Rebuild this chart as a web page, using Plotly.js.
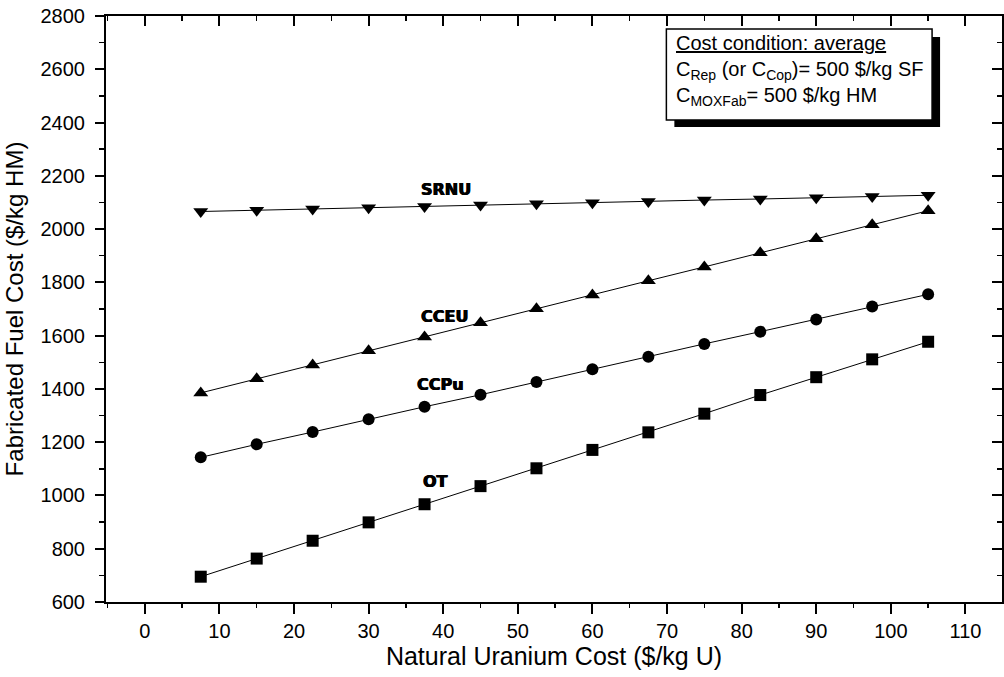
<!DOCTYPE html>
<html>
<head>
<meta charset="utf-8">
<script src="https://cdn.plot.ly/plotly-3.0.1.min.js"></script>
<style>html,body{margin:0;padding:0;background:#fff}#chart{width:1004px;height:677px}</style>
</head>
<body>
<div id="chart"></div>
<script>
// Natural uranium cost ($/kg U)
const uraniumCost = [7.5, 15, 22.5, 30, 37.5, 45, 52.5, 60, 67.5, 75, 82.5, 90, 97.5, 105];
// Fabricated fuel cost ($/kg HM)
const srnu = [2066, 2071, 2075, 2080, 2085, 2090, 2095, 2099, 2104, 2109, 2113, 2118, 2122, 2127];
const cceu = [1385, 1438, 1490, 1543, 1595, 1648, 1701, 1753, 1806, 1858, 1911, 1964, 2016, 2069];
const ccpu = [1143, 1192, 1238, 1286, 1333, 1378, 1426, 1474, 1521, 1569, 1615, 1661, 1709, 1755];
const ot   = [695, 763, 830, 899, 967, 1035, 1102, 1171, 1237, 1307, 1377, 1444, 1511, 1577];
const seriesNames = ['SRNU', 'CCEU', 'CCPu', 'OT'];
const xTitle = 'Natural Uranium Cost ($/kg U)';
const yTitle = 'Fabricated Fuel Cost ($/kg HM)';
const noteLines = [
  '<u>Cost condition: average</u>',
  'C<sub>Rep</sub> (or C<sub>Cop</sub>)= 500 $/kg SF',
  'C<sub>MOXFab</sub>= 500 $/kg HM'
];

const xRange = [-5.2, 114.9];
const yRange = [600, 2800];
const FONT = 'Liberation Sans, Arial, sans-serif';

function series(y, symbol, size, name) {
  return {
    x: uraniumCost, y: y, name: name, type: 'scatter', mode: 'lines+markers',
    line: {color: '#000', width: 1},
    marker: {symbol: symbol, size: size, color: '#000'},
    showlegend: false, hoverinfo: 'x+y'
  };
}

const traces = [
  series(srnu, 'triangle-down', 13, seriesNames[0]),
  series(cceu, 'triangle-up', 13, seriesNames[1]),
  series(ccpu, 'circle', 12, seriesNames[2]),
  series(ot, 'square', 12, seriesNames[3]),
  {x: [], y: [], xaxis: 'x2', yaxis: 'y2', type: 'scatter', mode: 'markers', showlegend: false, hoverinfo: 'skip'}
];

const labelPos = [[40.4, 2148], [40.2, 1673], [39.6, 1417], [38.9, 1052]];
const annotations = seriesNames.map((n, i) => ({
  x: labelPos[i][0], y: labelPos[i][1], xref: 'x', yref: 'y', text: n, showarrow: false,
  font: {family: 'DejaVu Sans, sans-serif', size: 16, color: '#000', weight: 'bold',
         shadow: '0.5px 0 0 #000, -0.5px 0 0 #000'},
  xanchor: 'center', yanchor: 'middle'
}));
// note box text (paper coords: px -> (px-106)/897, py -> (602-py)/586)
const noteY = [43, 71, 96];
noteLines.forEach((t, i) => {
  annotations.push({
    x: (675 - 106) / 897, y: (602 - noteY[i]) / 586, xref: 'paper', yref: 'paper',
    text: t, showarrow: false, xanchor: 'left', yanchor: 'middle', align: 'left',
    font: {family: FONT, size: 20, color: '#000'}
  });
});

const shapes = [
  {type: 'rect', xref: 'paper', yref: 'paper', x0: (675 - 106) / 897, x1: (941 - 106) / 897,
   y0: (602 - 127) / 586, y1: (602 - 37) / 586, fillcolor: '#000', line: {width: 0}},
  {type: 'rect', xref: 'paper', yref: 'paper', x0: (667 - 106) / 897, x1: (933 - 106) / 897,
   y0: (602 - 120) / 586, y1: (602 - 29) / 586, fillcolor: '#fff', line: {color: '#000', width: 1.5}}
];

const common = {showgrid: false, zeroline: false, showline: true, linecolor: '#000', linewidth: 2,
  tickcolor: '#000', tickwidth: 2};

const layout = {
  width: 1004, height: 677,
  margin: {l: 106, r: 2, t: 16, b: 75},
  paper_bgcolor: '#fff', plot_bgcolor: '#fff',
  font: {family: FONT, color: '#000', size: 20},
  showlegend: false,
  xaxis: Object.assign({}, common, {
    range: xRange, tick0: 0, dtick: 10, ticks: 'outside', ticklen: 10,
    minor: {dtick: 5, tick0: 0, ticks: 'outside', ticklen: 4, tickwidth: 1.5, tickcolor: '#000'},
    tickfont: {size: 20, family: FONT},
    title: {text: xTitle, font: {size: 25, family: FONT}, standoff: 4},
    automargin: false
  }),
  yaxis: Object.assign({}, common, {
    range: yRange, tick0: 600, dtick: 200, ticks: 'outside', ticklen: 9,
    minor: {dtick: 100, tick0: 600, ticks: 'outside', ticklen: 5, tickwidth: 1.5, tickcolor: '#000'},
    tickfont: {size: 20, family: FONT}, ticklabelstandoff: 6,
    title: {text: yTitle, font: {size: 24, family: FONT}, standoff: 10},
    automargin: false
  }),
  xaxis2: Object.assign({}, common, {
    overlaying: 'x', side: 'top', anchor: 'y2', range: xRange, tick0: 0, dtick: 10,
    ticks: 'inside', ticklen: 10, showticklabels: false,
    minor: {dtick: 5, tick0: 0, ticks: 'inside', ticklen: 5, tickwidth: 1.5, tickcolor: '#000'}
  }),
  yaxis2: Object.assign({}, common, {
    overlaying: 'y', side: 'right', anchor: 'x2', range: yRange, tick0: 600, dtick: 200,
    ticks: 'inside', ticklen: 10, showticklabels: false,
    minor: {dtick: 100, tick0: 600, ticks: 'inside', ticklen: 5, tickwidth: 1.5, tickcolor: '#000'}
  }),
  annotations: annotations,
  shapes: shapes
};

Plotly.newPlot('chart', traces, layout, {displayModeBar: false, staticPlot: true});
</script>
</body>
</html>
